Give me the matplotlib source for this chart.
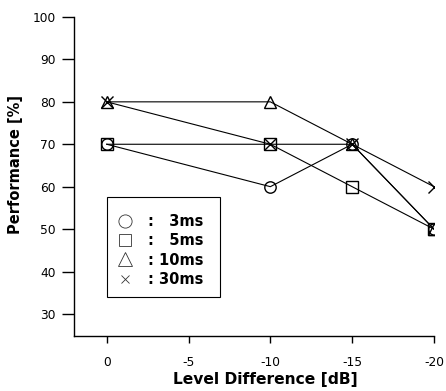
import matplotlib
matplotlib.use("Agg")
import matplotlib.pyplot as plt
from matplotlib.lines import Line2D
from matplotlib.patches import Rectangle

level_db = [0, -10, -15, -20]
perf_3ms = [70, 60, 70, 50]
perf_5ms = [70, 70, 60, 50]
perf_10ms = [80, 80, 70, 50]
perf_30ms = [80, 70, 70, 60]
series = [("3ms", perf_3ms, "o"), ("5ms", perf_5ms, "s"),
          ("10ms", perf_10ms, "^"), ("30ms", perf_30ms, "x")]
legend_labels = [":   3ms", ":   5ms", ": 10ms", ": 30ms"]
legend_marker_sizes = [9.5, 8.5, 10, 5.5]
x_ticks = [0, -5, -10, -15, -20]
y_ticks = [30, 40, 50, 60, 70, 80, 90, 100]

plt.rcParams['font.family'] = ['DejaVu Sans']
fig = plt.figure(figsize=(4.46, 3.91), dpi=100)
ax = fig.add_axes([0.166, 0.1407, 0.807, 0.8158])

for name, vals, m in series:
    ax.plot(level_db, vals, color='black', lw=0.8, marker=m, markersize=8.2,
            markerfacecolor='none', markeredgecolor='black', markeredgewidth=1.0)

ax.set_xlim(2, -20)
ax.set_ylim(24.8, 100)
ax.set_xticks(x_ticks)
ax.set_xticklabels([str(v) for v in x_ticks])
ax.set_yticks(y_ticks)
for s in ['top', 'right']:
    ax.spines[s].set_visible(False)
for s in ['left', 'bottom']:
    ax.spines[s].set_linewidth(1.0)
ax.tick_params(axis='x', direction='out', length=5.3, width=1.0, labelsize=8.8, pad=9)
ax.tick_params(axis='y', direction='out', length=8.5, width=1.0, labelsize=8.8, pad=4.5)
ax.set_xlabel("Level Difference [dB]", fontsize=11.2, fontweight='bold', labelpad=2)
ax.set_ylabel("Performance [%]", fontsize=10.5, fontweight='bold', labelpad=7)
ax.xaxis.label.set_x(0.532)
ax.yaxis.label.set_y(0.5376)

# legend frame box
fig.patches.append(Rectangle((107/446, 1-297/391), 113/446, 100/391,
                             transform=fig.transFigure, fill=False,
                             edgecolor='black', linewidth=0.8))

handles = []
for (name, vals, m), ms in zip(series, legend_marker_sizes):
    handles.append(Line2D([], [], linestyle='none', marker=m, markersize=ms,
                          markerfacecolor='none', markeredgecolor='#333333',
                          markeredgewidth=0.6))
fs = 10.5
hl = 1.2
anchor_x = (125 - hl*fs*100/72/2) / 446
leg = ax.legend(handles, legend_labels, loc='center left',
                bbox_to_anchor=(anchor_x, 1-250.5/391), bbox_transform=fig.transFigure,
                frameon=False, borderpad=0.0, borderaxespad=0.0,
                labelspacing=0.28, handlelength=hl, handletextpad=1.0,
                prop={'family': 'DejaVu Sans', 'weight': 'bold', 'size': fs})

fig.savefig("out.png", dpi=100)
